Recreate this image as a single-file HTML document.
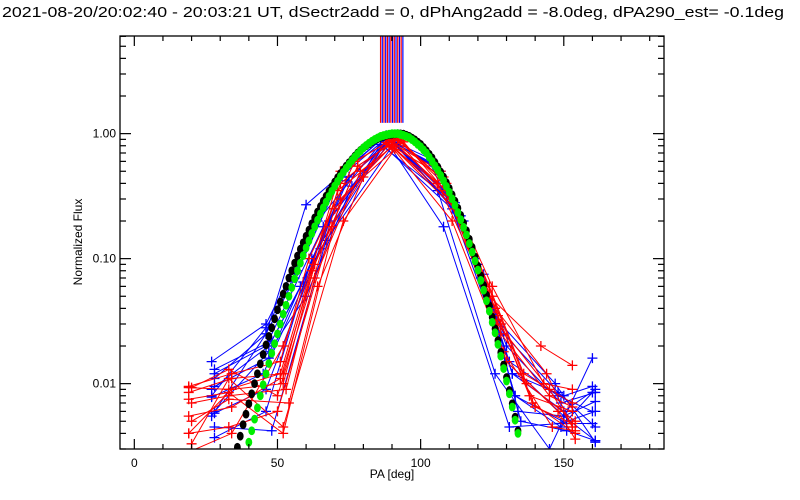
<!DOCTYPE html>
<html><head><meta charset="utf-8"><style>
html,body{margin:0;padding:0;background:#fff;width:800px;height:500px;overflow:hidden}
svg text{font-family:"Liberation Sans",sans-serif;fill:#000}
</style></head><body>
<svg id="chart" width="800" height="500" viewBox="0 0 800 500" xmlns="http://www.w3.org/2000/svg">
<rect width="800" height="500" fill="#fff"/>
<text x="2" y="17" font-size="15" textLength="782" lengthAdjust="spacingAndGlyphs">2021-08-20/20:02:40 - 20:03:21 UT, dSectr2add = 0, dPhAng2add = -8.0deg, dPA290_est= -0.1deg</text>
<defs><clipPath id="plotclip"><rect x="120" y="36" width="544" height="413"/></clipPath></defs>
<g id="series" clip-path="url(#plotclip)"></g>
<g id="axes"></g>
<text x="0" y="0" font-size="12" text-anchor="middle" transform="translate(82,242) rotate(-90)">Normalized Flux</text>
<text x="392" y="478" font-size="12" text-anchor="middle">PA [deg]</text>
</svg>
<script>
const xTicks=[0,50,100,150];
const xTickLabels=["0","50","100","150"];
const yTicks=[1,0.1,0.01];
const yTickLabels=["1.00","0.10","0.01"];
const blackPA=[36,37,38,39,40,41,42,43,44,45,46,47,48,49,50,51,52,53,54,55,56,57,58,59,60,61,62,63,64,65,66,67,68,69,70,71,72,73,74,75,76,77,78,79,80,81,82,83,84,85,86,87,88,89,90,91,92,93,94,95,96,97,98,99,100,101,102,103,104,105,106,107,108,109,110,111,112,113,114,115,116,117,118,119,120,121,122,123,124,125,126,127,128,129,130,131,132,133,134];
const blackVal=[0.0031,0.0038,0.0047,0.0057,0.0069,0.0083,0.010,0.012,0.0144,0.0171,0.0204,0.0239,0.028,0.033,0.039,0.045,0.052,0.060,0.070,0.080,0.092,0.105,0.119,0.134,0.151,0.169,0.19,0.212,0.236,0.261,0.288,0.316,0.347,0.377,0.41,0.444,0.48,0.514,0.55,0.585,0.62,0.66,0.70,0.735,0.77,0.80,0.83,0.86,0.89,0.912,0.935,0.952,0.97,0.98,0.99,0.995,1.0,0.995,0.99,0.97,0.95,0.92,0.89,0.855,0.82,0.774,0.73,0.684,0.64,0.588,0.54,0.493,0.45,0.405,0.365,0.324,0.288,0.253,0.222,0.193,0.167,0.143,0.123,0.103,0.087,0.073,0.061,0.051,0.042,0.034,0.0275,0.0221,0.0178,0.0141,0.0112,0.0088,0.0069,0.0054,0.0042];
const greenPA=[40,41,42,43,44,45,46,47,48,49,50,51,52,53,54,55,56,57,58,59,60,61,62,63,64,65,66,67,68,69,70,71,72,73,74,75,76,77,78,79,80,81,82,83,84,85,86,87,88,89,90,91,92,93,94,95,96,97,98,99,100,101,102,103,104,105,106,107,108,109,110,111,112,113,114,115,116,117,118,119,120,121,122,123,124,125,126,127,128,129,130,131,132,133,134];
const greenVal=[0.0034,0.0042,0.0052,0.0064,0.008,0.0098,0.012,0.0145,0.0175,0.0209,0.025,0.030,0.036,0.0424,0.05,0.0587,0.069,0.080,0.092,0.106,0.122,0.139,0.159,0.18,0.203,0.228,0.255,0.283,0.315,0.346,0.38,0.415,0.454,0.49,0.53,0.57,0.61,0.65,0.69,0.73,0.77,0.805,0.84,0.87,0.90,0.925,0.95,0.965,0.98,0.99,1.0,1.0,1.0,0.985,0.97,0.95,0.93,0.895,0.86,0.82,0.785,0.741,0.70,0.648,0.60,0.553,0.51,0.463,0.42,0.378,0.34,0.301,0.267,0.234,0.205,0.178,0.155,0.132,0.113,0.096,0.081,0.067,0.056,0.046,0.038,0.031,0.0255,0.0206,0.0166,0.0132,0.0105,0.0083,0.0065,0.0051,0.004];
const blueSeriesPA=[
[27,46,64,88,112,130,149,161],
[28,46,66,90,114,132,150,160],
[28,47,68,89,110,129,148,161],
[27,45,65,91,115,133,151,160],
[28,46,70,88,108,131,149,161],
[28,48,67,87,111,130,150,161],
[28,46,62,86,110,128,147,161],
[27,46,60,88,106,126,145,160],
[28,46,56,72,88,104,120,132,150,161],
[27,47,58,74,89,105,121,133,149,160],
[28,48,59,75,90,106,122,134,150,161],
[27,46,57,73,87,103,119,131,148,160],
[28,47,60,76,91,107,123,135,151,161]];
const blueSeriesVal=[
[0.015,0.03,0.2,0.95,0.28,0.02,0.007,0.0085],
[0.012,0.02,0.18,0.9,0.22,0.012,0.008,0.0095],
[0.0095,0.016,0.2,0.92,0.32,0.025,0.0085,0.0045],
[0.0078,0.012,0.12,0.85,0.2,0.008,0.0048,0.0048],
[0.0058,0.009,0.25,0.88,0.18,0.0045,0.0048,0.006],
[0.0045,0.0042,0.14,0.8,0.25,0.015,0.0055,0.0035],
[0.0037,0.006,0.1,0.82,0.3,0.03,0.01,0.0034],
[0.0055,0.025,0.27,0.97,0.35,0.012,0.003,0.016],
[0.011,0.025,0.07,0.45,0.92,0.62,0.09,0.012,0.006,0.009],
[0.009,0.02,0.06,0.42,0.9,0.55,0.07,0.008,0.0045,0.0085],
[0.013,0.022,0.065,0.45,0.88,0.52,0.075,0.006,0.0055,0.0072],
[0.008,0.028,0.08,0.5,0.93,0.6,0.1,0.015,0.008,0.006],
[0.006,0.018,0.05,0.38,0.85,0.5,0.06,0.005,0.0042,0.0035]];
const redSeriesPA=[
[19,33,51,72,88,106,124,142,153],
[19,33,52,72,90,110,128,145,153],
[20,33,50,70,89,108,126,144,153],
[19,34,51,71,90,111,129,146,154],
[20,33,52,73,91,112,130,148,154],
[19,33,50,69,88,107,125,143,153],
[20,34,52,72,90,109,127,145,153],
[19,34,52,62,78,92,108,124,136,153],
[20,33,53,63,79,93,109,125,137,154],
[19,34,51,61,77,91,110,126,138,153],
[20,33,54,64,80,94,111,127,139,154],
[19,34,52,63,78,92,109,128,140,153]];
const redSeriesVal=[
[0.0093,0.009,0.012,0.5,0.85,0.4,0.05,0.02,0.014],
[0.0075,0.0085,0.004,0.3,0.8,0.3,0.025,0.008,0.0065],
[0.0093,0.013,0.008,0.25,0.82,0.45,0.04,0.012,0.0045],
[0.0055,0.0065,0.011,0.35,0.78,0.2,0.018,0.0045,0.0042],
[0.0033,0.011,0.0045,0.2,0.75,0.25,0.015,0.006,0.0036],
[0.004,0.0045,0.006,0.18,0.9,0.5,0.06,0.01,0.009],
[0.0029,0.004,0.02,0.4,0.88,0.35,0.03,0.009,0.0045],
[0.0085,0.011,0.012,0.08,0.55,0.9,0.42,0.06,0.012,0.007],
[0.007,0.008,0.009,0.07,0.5,0.88,0.4,0.05,0.01,0.005],
[0.0095,0.012,0.015,0.1,0.6,0.92,0.3,0.04,0.008,0.006],
[0.005,0.0075,0.007,0.06,0.45,0.86,0.3,0.035,0.007,0.004],
[0.004,0.009,0.01,0.09,0.55,0.9,0.38,0.03,0.0065,0.0048]];
const spikePA=[86,86.6,87.2,87.8,88.4,89,89.6,90.2,90.8,91.4,92,92.6,93.2,93.8];
const spikeBase=1.22;

const NS="http://www.w3.org/2000/svg";
const X0=120,X1=664,Y0=36,Y1=449,XMIN=-5,XMAX=185,YMIN=0.003,YMAX=6.04;
function xs(v){return X0+(v-XMIN)/(XMAX-XMIN)*(X1-X0);}
function ys(v){return Y1-(Math.log10(v)-Math.log10(YMIN))/(Math.log10(YMAX)-Math.log10(YMIN))*(Y1-Y0);}
const gS=document.getElementById('series'),gA=document.getElementById('axes');
function mk(tag,attrs,parent){const e=document.createElementNS(NS,tag);for(const k in attrs)e.setAttribute(k,attrs[k]);parent.appendChild(e);return e;}

spikePA.forEach((p,i)=>{
 const l=mk('line',{x1:xs(p),x2:xs(p),y1:Y0,y2:ys(spikeBase),stroke:(i%2?'#0000ff':'#ff0000'),'stroke-width':1.2},gS);
 
 
});
function drawSeries(paArr,valArr,color,name){
 const pts=paArr.map((p,i)=>xs(p).toFixed(1)+','+ys(valArr[i]).toFixed(1)).join(' ');
 const pl=mk('polyline',{points:pts,fill:'none',stroke:color,'stroke-width':1},gS);
 
 
 paArr.forEach((p,i)=>{
  const x=xs(p),y=ys(valArr[i]);
  const m=mk('path',{d:`M${x-5},${y}H${x+5}M${x},${y-5}V${y+5}`,stroke:color,'stroke-width':1.3,fill:'none'},gS);
  
  
 });
}
blueSeriesPA.forEach((pa,i)=>drawSeries(pa,blueSeriesVal[i],'#0000ff','blue-series-'+(i+1)));
redSeriesPA.forEach((pa,i)=>drawSeries(pa,redSeriesVal[i],'#ff0000','red-series-'+(i+1)));
function drawDots(paArr,valArr,color,name){
 paArr.forEach((p,i)=>{
  const d=mk('ellipse',{cx:xs(p),cy:ys(valArr[i]),rx:3.4,ry:4.4,fill:color},gS);
  
  
 });
}
drawDots(blackPA,blackVal,'#000','black-model-dot');
drawDots(greenPA,greenVal,'#00ee00','green-model-dot');

const box=mk('rect',{x:X0,y:Y0,width:X1-X0,height:Y1-Y0,fill:'none',stroke:'#000','stroke-width':1.3},gA);


for(let v=0;v<=180;v+=10){
 const major=(v%50===0),L=major?10:5,x=xs(v);
 mk('line',{x1:x,x2:x,y1:Y1,y2:Y1-L,stroke:'#000','stroke-width':1.2},gA);
 mk('line',{x1:x,x2:x,y1:Y0,y2:Y0+L,stroke:'#000','stroke-width':1.2},gA);
}
xTicks.forEach((v,i)=>{
 const t=mk('text',{x:xs(v),y:467,'font-size':12,'text-anchor':'middle'},gA);t.textContent=xTickLabels[i];
 
 
});
for(let d=-3;d<=0;d++){for(let m=1;m<=9;m++){
 const v=m*Math.pow(10,d);if(v<YMIN||v>YMAX)continue;
 const y=ys(v),L=(m===1)?11:6;
 mk('line',{x1:X0,x2:X0+L,y1:y,y2:y,stroke:'#000','stroke-width':1.2},gA);
 mk('line',{x1:X1,x2:X1-L,y1:y,y2:y,stroke:'#000','stroke-width':1.2},gA);
}}
yTicks.forEach((v,i)=>{
 const t=mk('text',{x:116,y:ys(v)+4,'font-size':12,'text-anchor':'end'},gA);t.textContent=yTickLabels[i];
 
 
});
</script>
</body></html>
